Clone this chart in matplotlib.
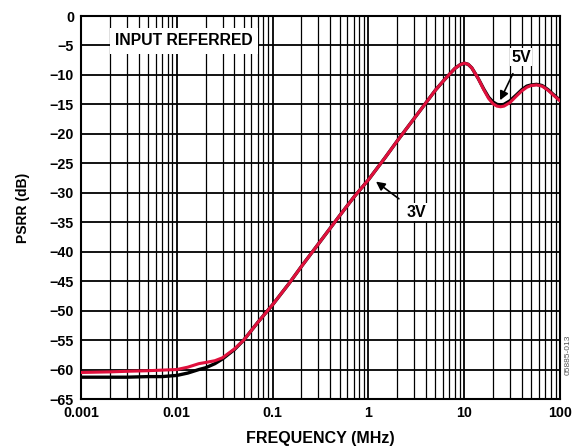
import matplotlib
matplotlib.use("Agg")
import matplotlib.pyplot as plt
from matplotlib.ticker import FixedLocator, NullFormatter, LogLocator

plt.rcParams['font.family'] = ['Liberation Sans', 'DejaVu Sans']

freq_mhz = [0.001, 0.002, 0.003, 0.005, 0.007, 0.01, 0.013, 0.017, 0.02, 0.025,
            0.03, 0.04, 0.05, 0.07, 0.1, 0.15, 0.2, 0.3, 0.5, 0.7,
            1, 1.5, 2, 3, 4, 5, 6, 7, 8, 9,
            10, 11, 12, 14, 16, 18, 20, 22, 24, 26,
            30, 35, 40, 45, 50, 57, 65, 75, 85, 100]
psrr_3v = [-60.5, -60.4, -60.3, -60.2, -60.1, -60.0, -59.6, -59.0, -58.8, -58.5,
           -58.0, -56.5, -55.0, -52.0, -49.0, -45.3, -42.5, -38.7, -33.9, -30.8,
           -27.8, -24.0, -21.2, -17.4, -14.7, -12.6, -11.1, -9.9, -8.9, -8.3,
           -8.0, -8.2, -8.8, -10.6, -12.5, -14.0, -14.9, -15.3, -15.4, -15.3,
           -14.7, -13.6, -12.7, -12.1, -11.8, -11.7, -11.9, -12.6, -13.4, -14.4]
psrr_5v = [-61.3, -61.3, -61.3, -61.2, -61.2, -61.0, -60.6, -60.0, -59.7, -59.0,
           -58.2, -56.6, -55.0, -52.0, -49.0, -45.3, -42.5, -38.7, -33.9, -30.8,
           -27.8, -24.0, -21.2, -17.4, -14.7, -12.6, -11.1, -9.9, -8.9, -8.3,
           -8.0, -8.2, -8.8, -10.6, -12.4, -13.8, -14.6, -15.0, -15.1, -15.0,
           -14.4, -13.4, -12.5, -11.9, -11.7, -11.6, -11.8, -12.5, -13.3, -14.3]

x_ticks = [0.001, 0.01, 0.1, 1, 10, 100]
x_tick_labels = ["0.001", "0.01", "0.1", "1", "10", "100"]
y_ticks = list(range(0, -70, -5))
y_tick_labels = ["0" if v == 0 else "\u2212" + str(-v) for v in y_ticks]

fig = plt.figure(figsize=(5.76, 4.48), dpi=100)
ax = fig.add_axes([81/576, 1-399/448, (560-81)/576, (399-16)/448])

ax.set_xscale('log')
ax.set_xlim(0.001, 100)
ax.set_ylim(-65, 0)

ax.xaxis.set_major_locator(FixedLocator(x_ticks))
ax.set_xticklabels(x_tick_labels)
ax.xaxis.set_minor_locator(LogLocator(base=10, subs=range(2, 10), numticks=20))
ax.xaxis.set_minor_formatter(NullFormatter())
ax.set_yticks(y_ticks)
ax.set_yticklabels(y_tick_labels)

ax.grid(True, which='major', axis='both', color='black', linewidth=1.3)
ax.grid(True, which='minor', axis='x', color='black', linewidth=0.9)
ax.set_axisbelow(True)
ax.tick_params(which='both', length=0, labelsize=10.3, pad=5)
for lbl in ax.get_xticklabels() + ax.get_yticklabels():
    lbl.set_fontweight('bold')
for s in ax.spines.values():
    s.set_linewidth(1.5)
    s.set_color('black')

ax.plot(freq_mhz, psrr_5v, color='black', linewidth=2.4, solid_capstyle='round', zorder=3)
ax.plot(freq_mhz, psrr_3v, color='#e0103c', linewidth=2.2, solid_capstyle='round', zorder=4)

ax.set_xlabel("FREQUENCY (MHz)", fontsize=11.5, fontweight='bold', labelpad=8)
ax.set_ylabel("PSRR (dB)", fontsize=10, fontweight='bold', labelpad=14)

ax.text(0.0119, -4.2, "INPUT REFERRED", fontsize=11.3, fontweight='bold',
        ha='center', va='center', zorder=5,
        bbox=dict(facecolor='white', edgecolor='none', pad=4))

ax.annotate("5V", xy=(23.7, -14.3), xytext=(39, -7.0), fontsize=11.5, fontweight='bold',
            ha='center', va='center', zorder=6,
            bbox=dict(facecolor='white', edgecolor='none', pad=1),
            arrowprops=dict(arrowstyle='-|>', color='black', lw=1.2, mutation_scale=13,
                            shrinkA=6, shrinkB=0))
ax.annotate("3V", xy=(1.2, -28.1), xytext=(3.2, -33.3), fontsize=11.5, fontweight='bold',
            ha='center', va='center', zorder=6,
            bbox=dict(facecolor='white', edgecolor='none', pad=1),
            arrowprops=dict(arrowstyle='-|>', color='black', lw=1.2, mutation_scale=13,
                            shrinkA=6, shrinkB=0))

fig.text(568/576, 1-355/448, "05885-013", rotation=90, fontsize=6, color='#555555',
         ha='center', va='center')

fig.savefig("out.png", dpi=100)
